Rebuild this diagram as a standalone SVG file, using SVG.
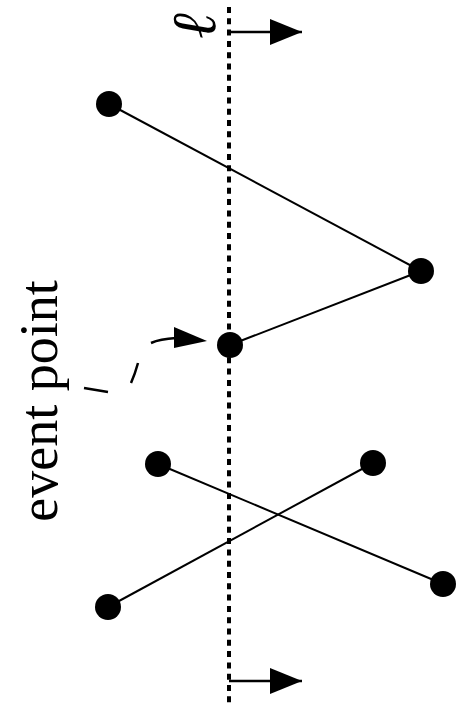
<svg xmlns="http://www.w3.org/2000/svg" width="465" height="705" viewBox="0 0 465 705">
  <style>
    .seg { stroke: #000; stroke-width: 2; fill: none; }
    .pt { fill: #000; }
    .sweep { stroke: #000; stroke-width: 4; stroke-dasharray: 6 5.3; fill: none; }
    .dir { stroke: #000; stroke-width: 2.5; fill: none; }
    .lbl { font-family: "Liberation Serif", "Times New Roman", serif; fill: #000; }
  </style>
  <defs>
    <marker id="head" markerUnits="userSpaceOnUse" markerWidth="34" markerHeight="26" refX="32" refY="13" orient="auto">
      <path d="M0,0 L32,13 L0,26 Z" fill="#000"/>
    </marker>
  </defs>

  <rect width="465" height="705" fill="#fff"/>

  <!-- sweep line and its direction -->
  <g id="sweep-line">
    <line class="sweep" x1="229" y1="7" x2="229" y2="705"/>
    <path class="dir" d="M229,32 H302" marker-end="url(#head)"/>
    <path class="dir" d="M229,681 H302" marker-end="url(#head)"/>
    <text class="lbl" font-style="italic" font-size="62" text-anchor="middle" transform="translate(215,26) rotate(-90)">ℓ</text>
  </g>

  <!-- segments -->
  <g id="connectors">
    <line class="seg" x1="109" y1="104" x2="421" y2="271"/>
    <line class="seg" x1="421" y1="271" x2="230" y2="345"/>
    <line class="seg" x1="158" y1="464" x2="443" y2="584"/>
    <line class="seg" x1="373" y1="463" x2="108" y2="607"/>
    <!-- dashed pointer to the event point, drawn as its three dashes -->
    <path d="M84,388 Q96,390 108,392 M131,383 Q135,374 138,363 M151,343 Q160,339 176,338" stroke="#000" stroke-width="2.5" fill="none"/>
    <path d="M174,327 L207,341 L174,348 Z" fill="#000"/>
  </g>

  <!-- endpoints -->
  <g id="p1"><circle class="pt" cx="109" cy="104" r="13"/></g>
  <g id="p2"><circle class="pt" cx="421" cy="271" r="13"/></g>
  <g id="p3"><circle class="pt" cx="230" cy="345" r="13"/></g>
  <g id="p4"><circle class="pt" cx="158" cy="464" r="13"/></g>
  <g id="p5"><circle class="pt" cx="373" cy="463" r="13"/></g>
  <g id="p6"><circle class="pt" cx="443" cy="584" r="13"/></g>
  <g id="p7"><circle class="pt" cx="108" cy="607" r="13"/></g>

  <g id="event-label">
    <text class="lbl" font-size="54" text-anchor="middle" transform="translate(57,401) rotate(-90)">event point</text>
  </g>
</svg>
